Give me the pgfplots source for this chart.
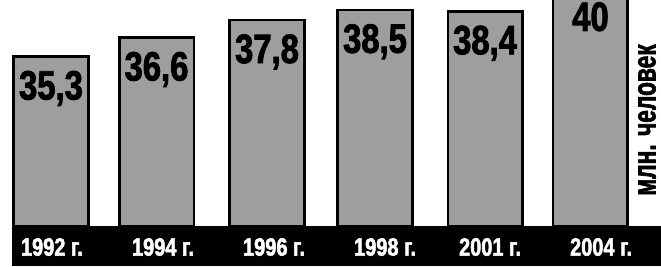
\documentclass[border=0pt]{standalone}
\usepackage{fontspec}
\setmainfont{Liberation Sans}
\newfontfamily\cond[FakeStretch=0.8,FakeBold=2]{Liberation Sans}
\newfontfamily\condb[FakeStretch=0.71,FakeBold=2]{Liberation Sans}
\usepackage{pgfplots}
\pgfplotsset{compat=1.18}
\begin{document}
\begin{tikzpicture}[x=1pt,y=1pt]
\useasboundingbox (0,0) rectangle (661,266);
\fill[white] (0,0) rectangle (661,266);
\fill[black] (12,0) rectangle (661,40);
\begin{axis}[
  at={(12pt,40pt)}, anchor=south west,
  scale only axis, width=649pt, height=226pt,
  xmin=-0.361, xmax=5.648, ymin=23.7, ymax=39.18,
  clip=false,
  axis line style={draw=none},
  ytick=\empty,
  xtick={0.009,1.037,2.065,3.093,4.065,5.093},
  xticklabels={1992 г.,1994 г.,1996 г.,1998 г.,2001 г.,2004 г.},
  major tick length=0pt,
  xticklabel style={text=white, font=\cond\bfseries\fontsize{25}{25}\selectfont, anchor=center, yshift=-21pt},
  ybar, bar width=0.69,
  point meta=explicit symbolic,
  nodes near coords,
  every node near coord/.append style={anchor=north, yshift=-13pt, inner sep=0pt, font=\cond\bfseries\fontsize{41}{41}\selectfont, text=black},
]
\addplot[fill=black!38, draw=black, line width=2.5pt] coordinates {
  (0,35.3) [35,3]
  (0.977,36.6) [36,6]
  (2.0,37.8) [37,8]
  (3.0,38.5) [38,5]
  (4.019,38.4) [38,4]
  (4.995,40) [40]
};
\end{axis}
\node[rotate=90, inner sep=0pt, font=\condb\bfseries\fontsize{32}{32}\selectfont] at (647,146) {млн. человек};
\end{tikzpicture}
\end{document}
